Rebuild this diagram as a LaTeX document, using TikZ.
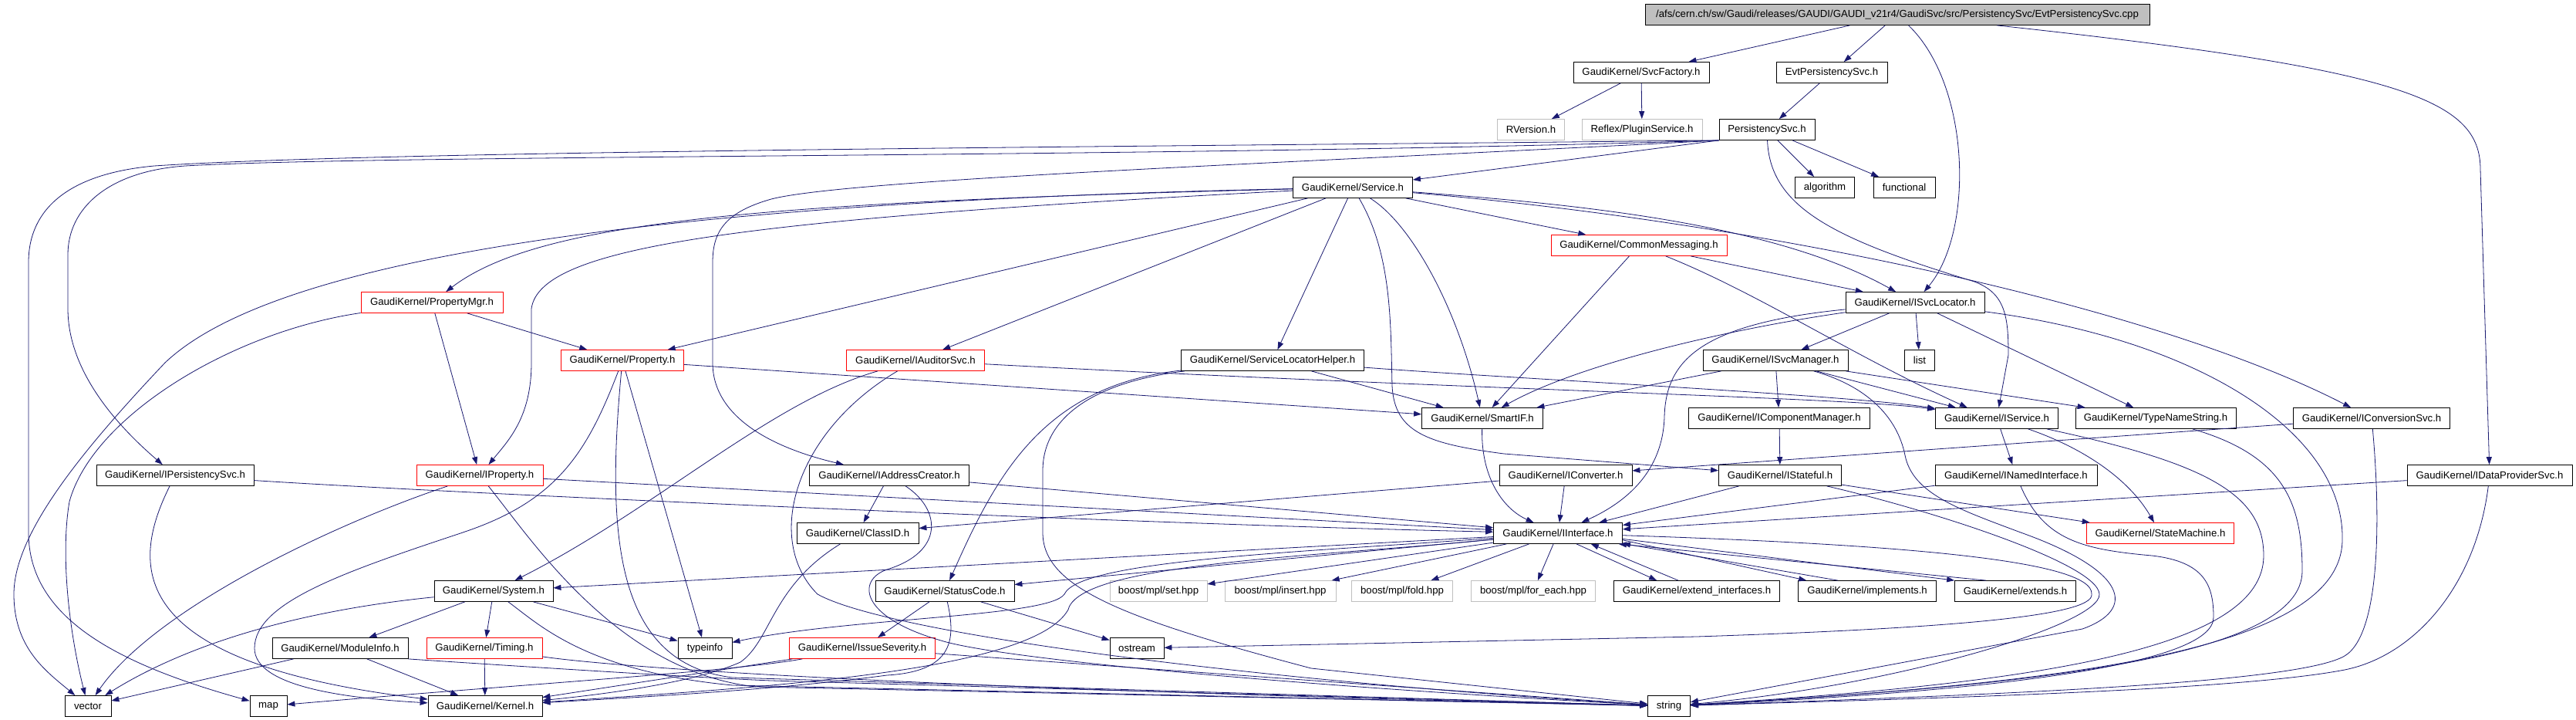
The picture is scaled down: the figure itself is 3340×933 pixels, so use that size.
\documentclass[tikz,border=0pt]{standalone}
\usepackage{fontspec}
\setmainfont{Liberation Sans}
\usepackage{tikz}
\usetikzlibrary{
    arrows.meta
}
\definecolor{edgeblue}{HTML}{191970}
\definecolor{truncred}{HTML}{FF0000}
\definecolor{extgray}{HTML}{BFBFBF}
\newcommand{\gvfont}{\fontsize{13.2}{16}\selectfont}
\tikzset{
    incbox/.style={draw=black, line width=0.8pt, fill=white, inner sep=0pt,
        minimum height=27pt, minimum width=#1, font=\gvfont},
    truncbox/.style={incbox=#1, draw=truncred},
    extbox/.style={incbox=#1, draw=extgray},
    rootbox/.style={incbox=#1, fill=extgray},
    dep/.style={draw=edgeblue, line width=0.8pt, -{Triangle[length=10pt, width=7pt]}}
}

\begin{document}
\begin{tikzpicture}[x=1pt, y=-1pt]
    \path[use as bounding box, fill=white] (0,0) rectangle (3340,933);

    \draw (2460,19) node[rootbox=654pt](root){/afs/cern.ch/sw/Gaudi/releases/GAUDI/GAUDI\_v21r4/GaudiSvc/src/PersistencySvc/EvtPersistencySvc.cpp};
    \draw (2128,94) node[incbox=176pt](svcfac){GaudiKernel/SvcFactory.h};
    \draw (2375,94) node[incbox=144pt](evtpsvch){EvtPersistencySvc.h};
    \draw (1985,168) node[extbox=87pt](rversion){RVersion.h};
    \draw (2129,168) node[extbox=156pt](plugin){Reflex/PluginService.h};
    \draw (2291,168) node[incbox=124pt](psvc){PersistencySvc.h};
    \draw (1754,243) node[incbox=155pt](service){GaudiKernel/Service.h};
    \draw (2366,243) node[incbox=77pt](algo){algorithm};
    \draw (2469,243) node[incbox=80pt](func){functional};
    \draw (2125,318) node[truncbox=228pt](commsg){GaudiKernel/CommonMessaging.h};
    \draw (560,392) node[truncbox=184pt](propmgr){GaudiKernel/PropertyMgr.h};
    \draw (2483,392) node[incbox=180pt](svcloc){GaudiKernel/ISvcLocator.h};
    \draw (807,467) node[truncbox=159pt](property){GaudiKernel/Property.h};
    \draw (1187,467) node[truncbox=179pt](auditor){GaudiKernel/IAuditorSvc.h};
    \draw (1650,467) node[incbox=237pt](slhelper){GaudiKernel/ServiceLocatorHelper.h};
    \draw (2302,467) node[incbox=188pt](svcmgr){GaudiKernel/ISvcManager.h};
    \draw (2489,467) node[incbox=39pt](list){list};
    \draw (1922,542) node[incbox=157pt](smartif){GaudiKernel/SmartIF.h};
    \draw (2307,542) node[incbox=235pt](compmgr){GaudiKernel/IComponentManager.h};
    \draw (2589,542) node[incbox=159pt](iservice){GaudiKernel/IService.h};
    \draw (2795,542) node[incbox=208pt](typename){GaudiKernel/TypeNameString.h};
    \draw (3075,542) node[incbox=203pt](convsvc){GaudiKernel/IConversionSvc.h};
    \draw (227,616) node[incbox=204pt](ipersist){GaudiKernel/IPersistencySvc.h};
    \draw (622,616) node[truncbox=164pt](iproperty){GaudiKernel/IProperty.h};
    \draw (1153,616) node[incbox=207pt](addrcreator){GaudiKernel/IAddressCreator.h};
    \draw (2030,616) node[incbox=172pt](converter){GaudiKernel/IConverter.h};
    \draw (2308,616) node[incbox=159pt](stateful){GaudiKernel/IStateful.h};
    \draw (2614,616) node[incbox=210pt](namedif){GaudiKernel/INamedInterface.h};
    \draw (3228,616) node[incbox=214pt](dataprov){GaudiKernel/IDataProviderSvc.h};
    \draw (1112,691) node[incbox=158pt](classid){GaudiKernel/ClassID.h};
    \draw (2020,691) node[incbox=167pt](iinterface){GaudiKernel/IInterface.h};
    \draw (2801,691) node[truncbox=191pt](statemach){GaudiKernel/StateMachine.h};
    \draw (640,766) node[incbox=154pt](system){GaudiKernel/System.h};
    \draw (1225,766) node[incbox=180pt](statuscode){GaudiKernel/StatusCode.h};
    \draw (1502,766) node[extbox=126pt](mplset){boost/mpl/set.hpp};
    \draw (1660,766) node[extbox=144pt](mplinsert){boost/mpl/insert.hpp};
    \draw (1818,766) node[extbox=131pt](mplfold){boost/mpl/fold.hpp};
    \draw (1988,766) node[extbox=161pt](mplforeach){boost/mpl/for\_each.hpp};
    \draw (2200,766) node[incbox=215pt](extendif){GaudiKernel/extend\_interfaces.h};
    \draw (2421,766) node[incbox=179pt](implements){GaudiKernel/implements.h};
    \draw (2613,766) node[incbox=157pt](extends){GaudiKernel/extends.h};
    \draw (441,840) node[incbox=176pt](moduleinfo){GaudiKernel/ModuleInfo.h};
    \draw (628,840) node[truncbox=150pt](timing){GaudiKernel/Timing.h};
    \draw (914,840) node[incbox=70pt](typeinfo){typeinfo};
    \draw (1118,840) node[truncbox=189pt](issuesev){GaudiKernel/IssueSeverity.h};
    \draw (1474,840) node[incbox=70pt](ostream){ostream};
    \draw (114,915) node[incbox=60pt](vector){vector};
    \draw (348,915) node[incbox=48pt](map){map};
    \draw (629,915) node[incbox=148pt](kernel){GaudiKernel/Kernel.h};
    \draw (2164,915) node[incbox=55pt](string){string};

    \draw[dep] (root) -- (svcfac);
    \draw[dep] (root) -- (evtpsvch);
    \draw[dep] (root) .. controls (2555,110) and (2560,300) .. (svcloc);
    \draw[dep] (root) .. controls (3120,90) and (3216,130) .. (3216,220) -- (dataprov);
    \draw[dep] (svcfac) -- (rversion);
    \draw[dep] (svcfac) -- (plugin);
    \draw[dep] (evtpsvch) -- (psvc);

    \draw[dep] (psvc.south west) -- (service);
    \draw[dep] (psvc) -- (algo);
    \draw[dep] (psvc) -- (func);
    \draw[dep] (psvc.south west) .. controls (1500,190) and (500,195) .. (200,215)
        .. controls (90,225) and (37,270) .. (37,340) -- (37,690)
        .. controls (37,800) and (150,860) .. (map);
    \draw[dep] (psvc.south west) .. controls (1500,205) and (500,200) .. (240,215)
        .. controls (140,222) and (88,270) .. (88,330) -- (88,400)
        .. controls (88,480) and (150,550) .. (ipersist);
    \draw[dep] (psvc.south west) .. controls (1700,210) and (1100,232) .. (1000,258)
        .. controls (940,275) and (924,300) .. (924,340) -- (924,470)
        .. controls (924,540) and (1000,580) .. (addrcreator);
    \draw[dep] (psvc) .. controls (2295,270) and (2380,310) .. (2560,365)
        .. controls (2600,380) and (2604,410) .. (2604,460) -- (iservice);

    \draw[dep] (service) -- (commsg);
    \draw[dep] (service) .. controls (2050,265) and (2300,290) .. (svcloc);
    \draw[dep] (service) .. controls (2300,290) and (2800,400) .. (convsvc);
    \draw[dep] (service) .. controls (1830,290) and (1890,400) .. (smartif);
    \draw[dep] (service) .. controls (1805,330) and (1803,420) .. (1805,500)
        .. controls (1808,560) and (1850,575) .. (1950,588) -- (stateful);
    \draw[dep] (service) -- (slhelper);
    \draw[dep] (service) -- (auditor);
    \draw[dep] (service) -- (property);
    \draw[dep] (service) .. controls (1000,262) and (700,285) .. (propmgr);
    \draw[dep] (service) .. controls (950,285) and (700,320) .. (689,400) -- (689,470)
        .. controls (689,540) and (660,570) .. (iproperty);
    \draw[dep] (service) .. controls (700,265) and (330,360) .. (214,470)
        .. controls (110,580) and (18,690) .. (18,770)
        .. controls (18,840) and (60,870) .. (vector);

    \draw[dep] (propmgr) -- (property);
    \draw[dep] (propmgr) -- (iproperty);
    \draw[dep] (propmgr) .. controls (300,430) and (120,540) .. (90,650)
        .. controls (78,720) and (90,820) .. (vector);

    \draw[dep] (property) -- (typeinfo);
    \draw[dep] (property) -- (smartif);
    \draw[dep] (property) .. controls (760,590) and (720,650) .. (600,690)
        .. controls (450,740) and (330,780) .. (330,840)
        .. controls (330,890) and (450,905) .. (kernel);
    \draw[dep] (property) .. controls (785,700) and (800,860) .. (950,878) -- (string);

    \draw[dep] (iproperty) -- (iinterface);
    \draw[dep] (iproperty) .. controls (430,680) and (200,790) .. (vector);
    \draw[dep] (iproperty) .. controls (690,700) and (800,870) .. (980,890) -- (string);

    \draw[dep] (auditor) .. controls (1000,520) and (850,660) .. (system);
    \draw[dep] (auditor) .. controls (1900,505) and (2400,515) .. (iservice);
    \draw[dep] (auditor) .. controls (1030,560) and (990,700) .. (1060,770)
        .. controls (1150,820) and (1600,880) .. (string);

    \draw[dep] (slhelper) -- (smartif);
    \draw[dep] (slhelper) .. controls (1950,490) and (2400,512) .. (iservice);
    \draw[dep] (slhelper) .. controls (1350,500) and (1290,620) .. (statuscode);
    \draw[dep] (slhelper) .. controls (1420,495) and (1352,540) .. (1352,610) -- (1352,690)
        .. controls (1352,760) and (1450,800) .. (1700,866) -- (string);

    \draw[dep] (commsg) -- (svcloc);
    \draw[dep] (commsg) -- (smartif);
    \draw[dep] (commsg) .. controls (2280,380) and (2400,460) .. (iservice.160);

    \draw[dep] (svcloc) -- (list);
    \draw[dep] (svcloc) -- (svcmgr);
    \draw[dep] (svcloc) -- (typename);
    \draw[dep] (svcloc) .. controls (2250,425) and (2050,470) .. (smartif);
    \draw[dep] (svcloc) .. controls (2200,420) and (2160,470) .. (2158,540)
        .. controls (2156,610) and (2110,650) .. (iinterface);
    \draw[dep] (svcloc) .. controls (2850,440) and (3040,560) .. (3037,700)
        .. controls (3035,840) and (2700,885) .. (string);

    \draw[dep] (svcmgr) -- (compmgr);
    \draw[dep] (svcmgr) -- (iservice);
    \draw[dep] (svcmgr) -- (typename);
    \draw[dep] (svcmgr) -- (smartif);
    \draw[dep] (svcmgr) .. controls (2420,500) and (2460,540) .. (2470,590)
        .. controls (2480,640) and (2540,660) .. (2620,690)
        .. controls (2760,740) and (2770,790) .. (2700,815) -- (string);
    \draw[dep] (compmgr) -- (stateful);

    \draw[dep] (iservice) -- (namedif);
    \draw[dep] (iservice) .. controls (2700,580) and (2760,620) .. (statemach);
    \draw[dep] (iservice) .. controls (2860,600) and (2935,640) .. (2935,720)
        .. controls (2935,840) and (2650,885) .. (string);
    \draw[dep] (typename) .. controls (2960,590) and (2985,650) .. (2985,740)
        .. controls (2985,850) and (2650,888) .. (string);
    \draw[dep] (convsvc) -- (converter);
    \draw[dep] (convsvc) .. controls (3085,650) and (3090,820) .. (3040,850)
        .. controls (2980,885) and (2600,900) .. (string);
    \draw[dep] (dataprov) -- (iinterface);
    \draw[dep] (dataprov) .. controls (3210,760) and (3130,850) .. (3040,868)
        .. controls (2900,895) and (2500,905) .. (string);

    \draw[dep] (stateful) -- (iinterface);
    \draw[dep] (stateful) -- (statemach);
    \draw[dep] (stateful) .. controls (2500,660) and (2720,730) .. (2722,770)
        .. controls (2724,810) and (2450,890) .. (string);
    \draw[dep] (namedif) -- (iinterface);
    \draw[dep] (namedif) .. controls (2650,700) and (2700,712) .. (2790,720)
        .. controls (2860,728) and (2870,760) .. (2870,800)
        .. controls (2870,860) and (2600,895) .. (string);

    \draw[dep] (ipersist) .. controls (600,640) and (1500,680) .. (iinterface);
    \draw[dep] (ipersist) .. controls (165,740) and (170,860) .. (kernel);
    \draw[dep] (addrcreator) -- (classid);
    \draw[dep] (addrcreator) -- (iinterface);
    \draw[dep] (addrcreator) .. controls (1220,660) and (1225,715) .. (1150,738)
        .. controls (1110,752) and (1115,800) .. (1220,830)
        .. controls (1300,855) and (1700,890) .. (string);
    \draw[dep] (converter) -- (iinterface);
    \draw[dep] (converter) -- (classid);
    \draw[dep] (smartif) .. controls (1920,620) and (1950,660) .. (iinterface);
    \draw[dep] (classid) .. controls (1000,760) and (1000,830) .. (960,858)
        .. controls (900,885) and (780,900) .. (kernel);

    \draw[dep] (iinterface) -- (system);
    \draw[dep] (iinterface) -- (statuscode);
    \draw[dep] (iinterface) -- (mplset);
    \draw[dep] (iinterface) -- (mplinsert);
    \draw[dep] (iinterface) -- (mplfold);
    \draw[dep] (iinterface) -- (mplforeach);
    \draw[dep] (iinterface.-30) -- (extendif.165);
    \draw[dep] (extendif.150) -- (iinterface.-18);
    \draw[dep] (iinterface.-6) -- (implements.170);
    \draw[dep] (implements.160) -- (iinterface.-9);
    \draw[dep] (iinterface.-5) -- (extends.170);
    \draw[dep] (extends.160) -- (iinterface.-10);
    \draw[dep] (iinterface) .. controls (1700,715) and (1400,725) .. (1380,770)
        .. controls (1360,800) and (1100,800) .. (typeinfo);
    \draw[dep] (iinterface) .. controls (1700,722) and (1400,730) .. (1385,790)
        .. controls (1340,870) and (1000,890) .. (kernel);
    \draw[dep] (iinterface) .. controls (2450,705) and (2715,725) .. (2712,770)
        .. controls (2716,800) and (2500,815) .. (2200,825) -- (ostream);

    \draw[dep] (statuscode) -- (issuesev);
    \draw[dep] (statuscode) -- (ostream);
    \draw[dep] (statuscode) .. controls (1240,830) and (1235,870) .. (1150,875)
        .. controls (1000,895) and (800,905) .. (kernel);
    \draw[dep] (issuesev) -- (kernel);
    \draw[dep] (issuesev) .. controls (950,870) and (700,885) .. (map);
    \draw[dep] (issuesev) -- (string);

    \draw[dep] (system) -- (timing);
    \draw[dep] (system) -- (moduleinfo);
    \draw[dep] (system) -- (typeinfo);
    \draw[dep] (system) .. controls (400,790) and (250,830) .. (vector);
    \draw[dep] (system) .. controls (700,810) and (760,870) .. (950,888) -- (string);
    \draw[dep] (moduleinfo) -- (kernel);
    \draw[dep] (moduleinfo) -- (vector);
    \draw[dep] (moduleinfo.south east) .. controls (650,862) and (900,878) .. (1000,882) -- (string);
    \draw[dep] (timing) -- (kernel);
    \draw[dep] (timing) .. controls (780,862) and (1100,890) .. (string);
\end{tikzpicture}
\end{document}
